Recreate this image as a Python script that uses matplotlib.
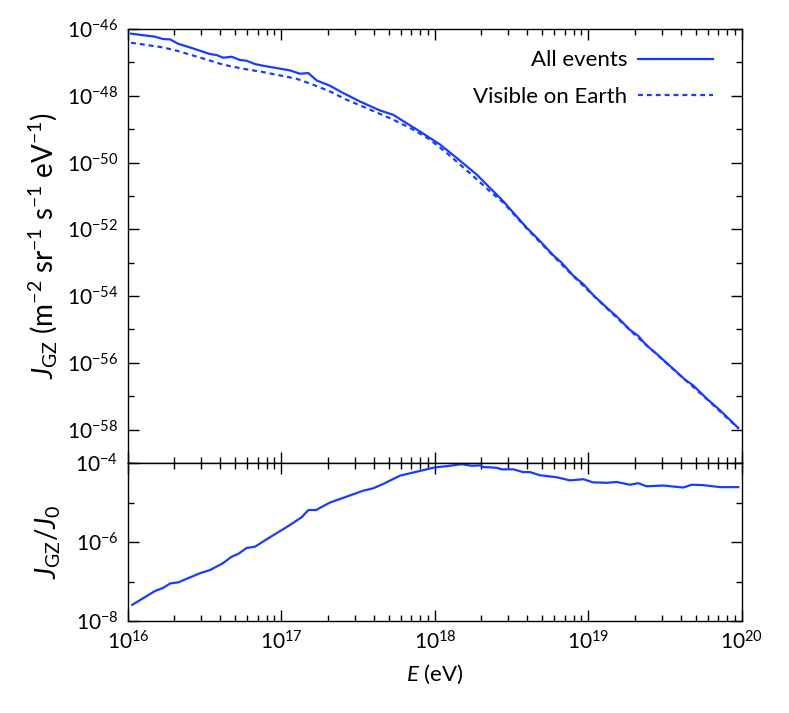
import numpy as np
import matplotlib
matplotlib.use("Agg")
import matplotlib.pyplot as plt
from matplotlib.ticker import (LogLocator, FixedLocator, LogFormatterSciNotation,
                               NullFormatter)

plt.rcParams['font.family'] = ['Lato', 'DejaVu Sans']
plt.rcParams['mathtext.fontset'] = 'custom'
plt.rcParams['mathtext.rm'] = 'Lato'
plt.rcParams['mathtext.it'] = 'Lato:italic'
plt.rcParams['axes.unicode_minus'] = False

# all events, log10(E/eV) and log10(J_GZ)
logE_all = [16.02, 16.176, 16.228, 16.274, 16.326, 16.423, 16.469, 16.534, 16.578, 16.621,
            16.676, 16.730, 16.773, 16.827, 16.881, 16.969, 17.055, 17.121, 17.175, 17.229,
            17.316, 17.403, 17.511, 17.642, 17.728, 17.902, 18.033, 18.141, 18.272, 18.445,
            18.597, 18.684, 18.771, 18.825, 18.901, 18.966, 19.031, 19.129, 19.184, 19.270,
            19.324, 19.379, 19.444, 19.552, 19.629, 19.683, 19.770, 19.857, 19.976]
logJ_all = [-46.14, -46.23, -46.30, -46.31, -46.44, -46.58, -46.65, -46.75, -46.78, -46.86,
            -46.83, -46.93, -46.95, -47.05, -47.10, -47.17, -47.24, -47.34, -47.32, -47.54,
            -47.70, -47.92, -48.17, -48.44, -48.57, -49.07, -49.46, -49.86, -50.36, -51.16,
            -51.95, -52.35, -52.78, -53.00, -53.39, -53.64, -53.97, -54.39, -54.61, -55.01,
            -55.19, -55.48, -55.73, -56.18, -56.50, -56.68, -57.07, -57.42, -57.95]

# visible on Earth
logE_vis = [16.02, 16.228, 16.326, 16.502, 16.621, 16.751, 16.881, 16.990, 17.099, 17.207,
            17.316, 17.425, 17.555, 17.620, 17.707, 17.837, 17.967, 18.076, 18.163, 18.250,
            18.358, 18.445, 18.597, 18.771, 18.901, 19.031, 19.270, 19.552, 19.770, 19.976]
logJ_vis = [-46.41, -46.55, -46.66, -46.90, -47.07, -47.19, -47.29, -47.39, -47.49, -47.67,
            -47.87, -48.12, -48.37, -48.50, -48.67, -48.96, -49.31, -49.71, -50.06, -50.41,
            -50.86, -51.20, -51.97, -52.80, -53.40, -53.98, -55.02, -56.19, -57.08, -57.96]

# ratio J_GZ / J_0
logE_ratio = [16.028, 16.176, 16.230, 16.274, 16.328, 16.469, 16.534, 16.617, 16.676, 16.719,
              16.773, 16.827, 16.904, 17.055, 17.132, 17.175, 17.225, 17.316, 17.425, 17.533,
              17.598, 17.663, 17.772, 17.837, 17.946, 18.000, 18.076, 18.174, 18.239, 18.293,
              18.315, 18.402, 18.434, 18.510, 18.575, 18.619, 18.684, 18.793, 18.879, 18.966,
              19.031, 19.119, 19.184, 19.270, 19.324, 19.379, 19.487, 19.618, 19.672, 19.748,
              19.857, 19.976]
log_ratio = [-7.59, -7.24, -7.16, -7.05, -7.02, -6.79, -6.71, -6.54, -6.37, -6.30,
             -6.15, -6.12, -5.93, -5.57, -5.37, -5.19, -5.19, -5.00, -4.85, -4.70,
             -4.64, -4.53, -4.32, -4.26, -4.16, -4.11, -4.08, -4.03, -4.07, -4.06,
             -4.10, -4.12, -4.16, -4.16, -4.23, -4.23, -4.31, -4.36, -4.44, -4.41,
             -4.49, -4.50, -4.48, -4.55, -4.51, -4.59, -4.57, -4.62, -4.55, -4.56,
             -4.61, -4.61]

blue = '#1a3cff'

fig = plt.figure(figsize=(7.89, 7.13), dpi=100)
ax1 = fig.add_axes([0.1622, 0.3506, 0.7782, 0.6087])
ax2 = fig.add_axes([0.1622, 0.1290, 0.7782, 0.2216], sharex=ax1)

ax1.plot(10.0 ** np.array(logE_all), 10.0 ** np.array(logJ_all), color=blue, lw=1.6,
         label='All events')
ax1.plot(10.0 ** np.array(logE_vis), 10.0 ** np.array(logJ_vis), color=blue, lw=1.6,
         dashes=(2.2, 1.8), label='Visible on Earth')
ax2.plot(10.0 ** np.array(logE_ratio), 10.0 ** np.array(log_ratio), color=blue, lw=1.6)

ax1.set_xlim(1e16, 1e20)
ax1.set_ylim(1e-59, 1e-46)
ax2.set_ylim(1e-8, 1e-4)

for ax, (lo, hi) in ((ax1, (-59, -46)), (ax2, (-8, -4))):
    ax.set_xscale('log')
    ax.set_yscale('log')
    ax.xaxis.set_major_locator(FixedLocator(10.0 ** np.arange(16, 21)))
    ax.xaxis.set_minor_locator(LogLocator(base=10, subs=np.arange(2, 10), numticks=10))
    ax.xaxis.set_minor_formatter(NullFormatter())
    # labelled every second decade, plain ticks in between
    ax.yaxis.set_major_locator(FixedLocator(10.0 ** np.arange(hi, lo - 1, -2)))
    ax.yaxis.set_major_formatter(LogFormatterSciNotation(base=10))
    ax.yaxis.set_minor_locator(FixedLocator(10.0 ** np.arange(hi - 1, lo - 1, -2)))
    ax.yaxis.set_minor_formatter(NullFormatter())
    ax.tick_params(which='both', direction='in', top=True, right=True, width=1.0,
                   labelsize=15, pad=7)
    ax.tick_params(which='major', length=8)
    ax.tick_params(which='minor', length=4.5)
    for s in ax.spines.values():
        s.set_linewidth(1.0)

ax1.set_xlim(1e16, 1e20)
ax1.set_ylim(1e-59, 1e-46)
ax2.set_ylim(1e-8, 1e-4)
ax1.tick_params(labelbottom=False)

ax1.set_ylabel(r'$J_{\rm GZ}$ (m$^{-2}$ sr$^{-1}$ s$^{-1}$ eV$^{-1}$)', fontsize=20, labelpad=5)
ax2.set_ylabel(r'$J_{\rm GZ}/J_0$', fontsize=20, labelpad=9)
ax2.set_xlabel(r'$E$ (eV)', fontsize=16, labelpad=6)

ax1.legend(loc='upper right', bbox_to_anchor=(0.953, 0.951), frameon=False, fontsize=16,
           markerfirst=False, handlelength=3.4, handletextpad=0.45, labelspacing=0.73,
           borderpad=0, borderaxespad=0)

fig.savefig('out.png', dpi=100)
